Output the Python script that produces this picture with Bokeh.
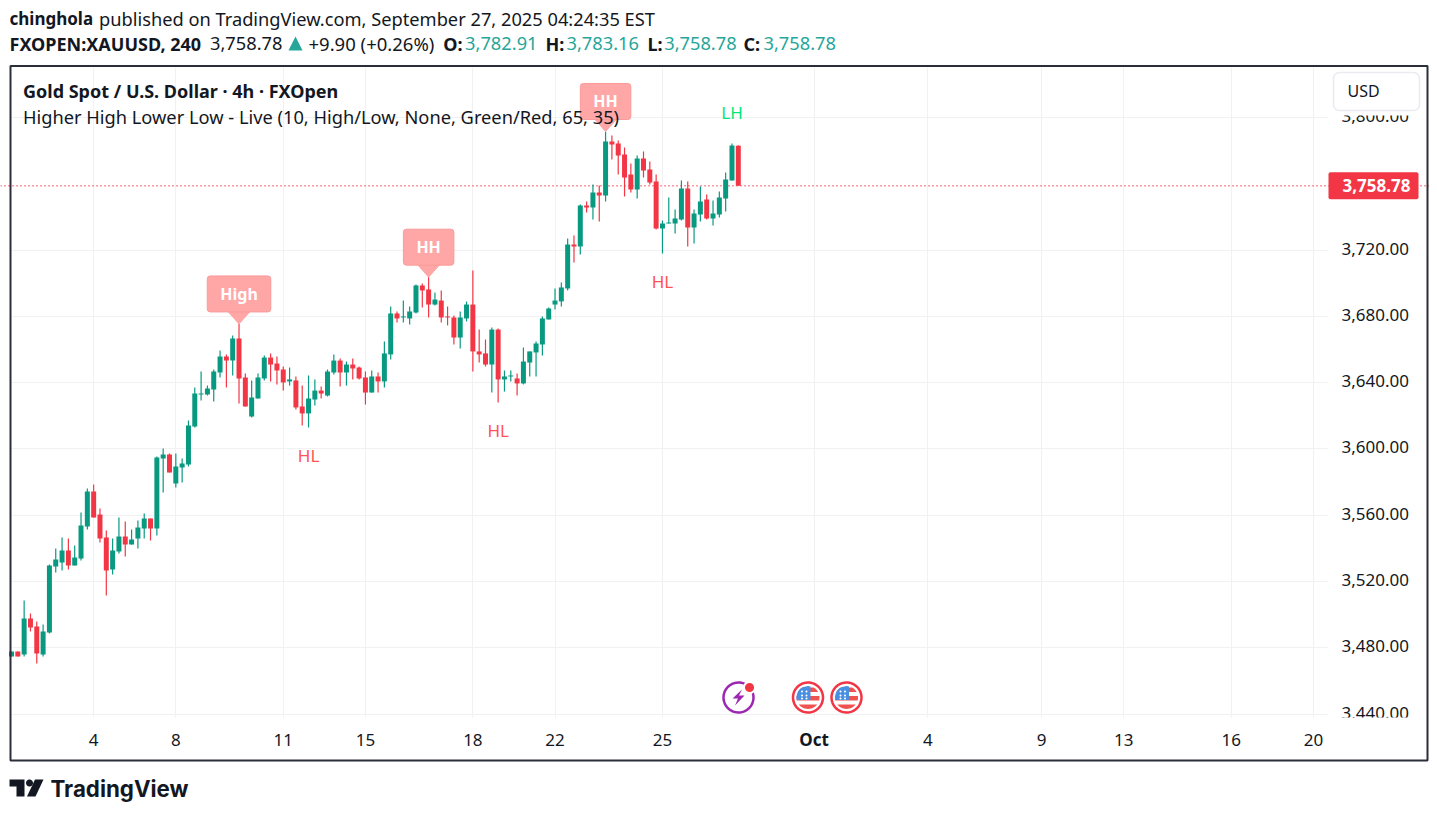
import numpy as np
from bokeh.embed import file_html
from bokeh.models import BoxAnnotation, FixedTicker, Label, PolyAnnotation, Range1d, Span
from bokeh.plotting import figure
from bokeh.resources import INLINE

opens = [3474.8, 3477.8, 3476.0, 3497.7, 3492.9, 3476.0, 3489.2, 3529.0, 3531.5, 3538.7,
         3529.7, 3533.9, 3553.2, 3574.3, 3560.4, 3546.5, 3527.2, 3538.1, 3547.1, 3542.3,
         3546.0, 3552.0, 3558.0, 3552.0, 3594.2, 3596.6, 3579.1, 3588.8, 3590.6, 3613.5,
         3632.8, 3632.8, 3635.8, 3646.1, 3655.8, 3653.3, 3666.6, 3643.1, 3619.5, 3630.4,
         3642.5, 3655.1, 3651.5, 3647.9, 3640.7, 3641.3, 3625.6, 3621.4, 3629.8, 3635.2,
         3632.2, 3646.1, 3653.3, 3646.1, 3650.9, 3649.1, 3643.1, 3634.0, 3643.7, 3640.7,
         3657.0, 3681.7, 3679.3, 3678.7, 3682.3, 3698.6, 3696.2, 3687.1, 3689.5, 3679.9,
         3679.3, 3667.2, 3678.7, 3687.1, 3658.8, 3657.6, 3650.9, 3672.0, 3641.9, 3643.7,
         3642.5, 3639.5, 3652.1, 3658.2, 3663.0, 3678.1, 3687.1, 3689.0, 3696.8, 3723.3,
         3722.1, 3746.9, 3745.6, 3754.7, 3752.9, 3785.5, 3784.3, 3777.6, 3765.6, 3756.5,
         3775.2, 3768.6, 3761.3, 3733.0, 3736.0, 3736.0, 3738.4, 3757.1, 3733.6, 3741.4,
         3750.5, 3739.0, 3741.4, 3751.1, 3761.9, 3782.91]
highs = [3477.8, 3477.8, 3508.5, 3500.7, 3495.9, 3494.1, 3530.3, 3539.9, 3546.5, 3546.0,
         3541.7, 3561.6, 3576.1, 3578.5, 3564.0, 3550.8, 3546.0, 3558.6, 3556.2, 3551.4,
         3556.8, 3561.0, 3558.0, 3595.4, 3600.2, 3597.2, 3597.2, 3594.2, 3617.1, 3637.0,
         3646.7, 3638.2, 3647.9, 3659.4, 3656.9, 3668.4, 3675.4, 3645.5, 3641.3, 3645.5,
         3656.3, 3657.5, 3655.7, 3649.7, 3649.1, 3643.7, 3638.2, 3644.3, 3641.9, 3637.6,
         3647.9, 3657.0, 3654.5, 3652.7, 3654.5, 3649.7, 3646.7, 3647.3, 3646.1, 3664.8,
         3685.9, 3682.9, 3689.5, 3685.9, 3699.2, 3699.8, 3703.6, 3694.4, 3695.6, 3685.9,
         3680.5, 3682.9, 3688.9, 3707.6, 3672.0, 3666.0, 3673.2, 3672.6, 3647.3, 3647.3,
         3645.5, 3661.2, 3658.8, 3664.8, 3679.9, 3685.3, 3696.8, 3700.4, 3727.0, 3728.8,
         3747.5, 3749.3, 3759.5, 3758.9, 3791.5, 3789.1, 3786.1, 3781.8, 3772.2, 3777.0,
         3779.4, 3773.4, 3765.6, 3737.8, 3751.7, 3744.4, 3761.9, 3761.3, 3744.4, 3758.3,
         3753.5, 3749.9, 3755.3, 3766.8, 3784.3, 3783.16]
lows = [3474.8, 3474.8, 3474.8, 3489.8, 3470.5, 3474.8, 3488.6, 3525.4, 3526.6, 3527.2,
        3529.7, 3532.7, 3551.4, 3558.6, 3543.5, 3511.5, 3524.2, 3536.9, 3535.1, 3542.3,
        3539.9, 3546.0, 3544.7, 3547.7, 3573.7, 3585.8, 3576.7, 3579.7, 3589.4, 3612.9,
        3629.2, 3632.2, 3628.6, 3643.1, 3637.0, 3644.3, 3627.4, 3625.6, 3619.0, 3630.4,
        3641.3, 3640.7, 3638.9, 3635.2, 3638.2, 3623.8, 3614.1, 3612.9, 3626.2, 3630.4,
        3631.6, 3644.9, 3637.6, 3638.2, 3641.9, 3641.9, 3626.8, 3634.0, 3634.0, 3637.0,
        3653.9, 3676.3, 3676.3, 3675.1, 3681.7, 3685.3, 3679.3, 3686.5, 3676.3, 3674.5,
        3663.0, 3660.6, 3676.9, 3646.7, 3652.1, 3649.7, 3634.0, 3628.0, 3634.6, 3640.7,
        3632.2, 3638.9, 3643.7, 3643.7, 3656.4, 3678.1, 3684.1, 3685.9, 3695.6, 3712.5,
        3717.3, 3742.6, 3738.4, 3737.2, 3749.3, 3774.6, 3765.6, 3752.3, 3754.7, 3751.1,
        3763.7, 3759.5, 3732.4, 3717.9, 3736.0, 3730.0, 3737.8, 3722.1, 3723.9, 3737.2,
        3738.4, 3734.8, 3739.6, 3743.2, 3761.9, 3758.78]
closes = [3477.8, 3474.8, 3497.7, 3492.3, 3476.6, 3489.8, 3529.7, 3533.3, 3538.7, 3529.7,
          3534.5, 3553.8, 3574.3, 3558.6, 3546.0, 3526.6, 3538.7, 3547.1, 3542.3, 3545.3,
          3552.6, 3558.0, 3552.0, 3594.8, 3596.6, 3585.8, 3589.4, 3591.2, 3614.1, 3633.4,
          3633.4, 3636.4, 3646.7, 3655.8, 3653.3, 3666.6, 3642.5, 3625.6, 3631.0, 3643.1,
          3655.1, 3650.9, 3647.3, 3640.1, 3641.9, 3625.0, 3621.4, 3630.4, 3635.2, 3633.4,
          3646.7, 3653.3, 3646.1, 3650.9, 3648.5, 3642.5, 3634.0, 3643.7, 3640.7, 3657.6,
          3681.7, 3678.7, 3679.9, 3682.9, 3698.6, 3695.6, 3687.1, 3690.1, 3679.3, 3679.3,
          3667.2, 3679.3, 3687.1, 3658.8, 3657.0, 3650.9, 3672.0, 3641.9, 3643.7, 3644.3,
          3639.5, 3652.7, 3658.8, 3663.6, 3678.7, 3684.7, 3689.5, 3697.4, 3723.3, 3722.1,
          3746.9, 3745.6, 3754.7, 3752.9, 3785.5, 3783.7, 3777.0, 3763.7, 3756.5, 3775.2,
          3768.0, 3760.7, 3733.0, 3736.0, 3736.6, 3739.0, 3757.1, 3733.6, 3742.0, 3749.3,
          3739.0, 3742.0, 3751.7, 3762.5, 3783.0, 3758.78]

price_ticks = [3440, 3480, 3520, 3560, 3600, 3640, 3680, 3720, 3800]
time_ticks = [13, 26, 43, 56, 73, 86, 103, 127, 145, 163, 176, 193, 206]
time_labels = ["4", "8", "11", "15", "18", "22", "25", "", "4", "9", "13", "16", "20"]

bubble_bars = [36, 66, 94]
bubble_names = ["High", "HH", "HH"]
swing_high_bars = [114]
swing_high_names = ["LH"]
swing_low_bars = [47, 77, 103]
swing_low_names = ["HL", "HL", "HL"]

UP = "#089981"
DOWN = "#F23645"
INK = "#131722"
TEAL = "#26a69a"
BUBBLE = "#ffa6a6"
FONT = "Noto Sans"

PX_BAR = 6.32
PX_USD = 1.6575

W, H = 1429, 803
PANE_L, PANE_R, PANE_T, PANE_B = 11, 1327, 67, 717


def bar_at(px):
    return (px - 11) / PX_BAR


def usd_at(py):
    return 3480 + (647.3 - py) / PX_USD


# the frame fills the whole canvas, annotations get clipped to it otherwise
p = figure(width=W, height=H, output_backend="svg", toolbar_location=None,
           x_range=Range1d(bar_at(0), bar_at(W)), y_range=Range1d(usd_at(H), usd_at(0)),
           y_axis_location="right", min_border=0)
p.outline_line_color = None
p.background_fill_color = "white"
p.border_fill_color = "white"

# price labels sit 1.5px above their grid lines
label_lift = 1.5 / PX_USD
label_ticks = [t + label_lift for t in price_ticks]
p.yaxis.ticker = FixedTicker(ticks=label_ticks)
p.yaxis.major_label_overrides = {l: f"{t:,.2f}" for l, t in zip(label_ticks, price_ticks)}
p.yaxis.fixed_location = bar_at(PANE_R)
p.ygrid.ticker = FixedTicker(ticks=price_ticks)
p.xaxis.ticker = FixedTicker(ticks=time_ticks)
p.xaxis.major_label_overrides = dict(zip(time_ticks, time_labels))
p.xaxis.fixed_location = usd_at(PANE_B)
for ax in (p.xaxis, p.yaxis):
    ax.axis_line_color = None
    ax.major_tick_line_color = None
    ax.minor_tick_line_color = None
    ax.major_label_text_font = FONT
    ax.major_label_text_font_size = "17px"
    ax.major_label_text_color = INK
p.yaxis.major_label_standoff = 8
p.xaxis.major_label_standoff = 10
p.grid.grid_line_color = "#f1f1f2"
p.grid.grid_line_width = 1


def box(left, right, top, bottom, **kw):
    p.add_layout(BoxAnnotation(left=left, right=right, top=top, bottom=bottom,
                               left_units="canvas", right_units="canvas", top_units="canvas",
                               bottom_units="canvas", **kw))


# white masks keep the grid inside the pane
for l, r, t, b in [(0, PANE_L, 0, H), (PANE_R, W, 0, H), (0, W, 0, PANE_T), (0, W, PANE_B, H)]:
    box(l, r, t, b, fill_color="white", fill_alpha=1, line_color=None, level="underlay")

bars = list(range(len(opens)))
colors = [UP if c >= o else DOWN for o, c in zip(opens, closes)]
p.add_layout(Span(location=closes[-1], dimension="width", line_color=DOWN,
                  line_dash=[1, 3], line_width=1.4, level="underlay"))
p.segment(bars, highs, bars, lows, color=colors, line_width=1.2)
p.vbar(bars, 0.79, opens, closes, fill_color=colors, line_color=None)


def text(x, y, s, color=INK, size="18.25px", style="normal", font=FONT, align="left"):
    p.add_layout(Label(x=x, y=y, x_units="canvas", y_units="canvas", text=s,
                       text_color=color, text_font=font, text_font_size=size,
                       text_font_style=style, text_align=align, text_baseline="middle"))


def poly(xs, ys, fill, line=None, width=1):
    p.add_layout(PolyAnnotation(xs=list(xs), ys=list(ys), xs_units="canvas", ys_units="canvas",
                                fill_color=fill, fill_alpha=1 if fill else 0,
                                line_color=line, line_alpha=1, line_width=width))


def disc(x, y, r, fill, line=None, width=1):
    t = np.linspace(0, 2 * np.pi, 60)
    poly(x + r * np.cos(t), y + r * np.sin(t), fill, line, width)


def band(x, y, r, top, bottom):
    rows = np.linspace(top, bottom, 12)
    half = np.sqrt(np.maximum(r * r - rows * rows, 0))
    poly(list(x - half) + list(x + half[::-1]), list(y + rows) + list(y + rows[::-1]), "#ef5350")


# bubbles over the swing highs
for b, name in zip(bubble_bars, bubble_names):
    tip = highs[b]
    p.patch([b - 11.5 / PX_BAR, b, b + 11.5 / PX_BAR],
            [tip + 13 / PX_USD, tip, tip + 13 / PX_USD],
            fill_color=BUBBLE, line_color=BUBBLE)
    p.add_layout(Label(x=b, y=tip, y_offset=12, text=name, anchor="bottom_center",
                       text_align="center", text_color="white", text_font=FONT,
                       text_font_size="16px", text_font_style="bold",
                       background_fill_color=BUBBLE, border_line_color="#fb9a9a",
                       border_radius=3, padding=(13, 7)))

for b, name in zip(swing_high_bars, swing_high_names):
    p.add_layout(Label(x=b, y=highs[b], y_offset=31, text=name, text_align="center",
                       text_baseline="middle", text_color="#00e676", text_font=FONT,
                       text_font_size="17px"))
for b, name in zip(swing_low_bars, swing_low_names):
    p.add_layout(Label(x=b, y=lows[b], y_offset=-28, text=name, text_align="center",
                       text_baseline="middle", text_color="#ff5252", text_font=FONT,
                       text_font_size="17px"))

# Oct is bold, the other date ticks are not
p.add_layout(Label(x=time_ticks[7], y=739, y_units="canvas", text="Oct", text_align="center",
                   text_baseline="middle", text_color=INK, text_font=FONT,
                   text_font_size="17px", text_font_style="bold"))

# event icons
disc(738, 697, 15, "white", "#9c27b0", 2.5)
poly([738 + d for d in (3.5, -6, -0.5, -3.5, 6, 0.5)],
     [697 + d for d in (-8, 1, 1, 8, -2, -2)], "#9c27b0")
disc(749, 687, 6.5, "white")
disc(749, 687, 4.5, DOWN)
for fx in (807.5, 846):
    disc(fx, 697, 15, "white", DOWN, 2.5)
    band(fx, 697, 11.5, -10, -5.5)
    band(fx, 697, 11.5, -1.5, 3)
    band(fx, 697, 11.5, 7, 11.5)
    rows = np.linspace(-11.5, 2.5, 12)
    half = np.sqrt(np.maximum(11.5 ** 2 - rows * rows, 0))
    poly(list(fx - half) + [fx + 2.5, fx + 2.5], list(697 + rows) + [699.5, 686], "#4a90e2")
    for dx in (-6, -1.5):
        for dy in (-6, -2, 1):
            disc(fx + dx, 697 + dy, 1, "white")

# scale clipping, button, outer frame
box(1329, 1425, 717, 732, fill_color="white", fill_alpha=1, line_color=None)
box(1329, 1425, 105, 115, fill_color="white", fill_alpha=1, line_color=None)
box(1333, 1419, 72, 110, fill_color="white", fill_alpha=1, line_color="#e9ebf0", line_alpha=1,
    line_width=1.5, border_radius=6)
text(1347, 90, "USD", size="16px")
box(10, 1427, 65.5, 760, fill_alpha=0, line_color="#2a2e39", line_alpha=1, line_width=2)

# last price tag
p.add_layout(BoxAnnotation(left=1328, right=1418, top=closes[-1] + 13.5 / PX_USD,
                           bottom=closes[-1] - 13.5 / PX_USD, left_units="canvas", right_units="canvas",
                           fill_color=DOWN, fill_alpha=1, line_color=None, border_radius=2))
p.add_layout(Label(x=1376, y=closes[-1], x_units="canvas", text=f"{closes[-1]:,.2f}",
                   text_align="center", text_baseline="middle", text_color="white",
                   text_font=FONT, text_font_size="17px", text_font_style="bold"))

# heading lines
text(9, 18, "chinghola", style="bold", size="17px")
text(98.5, 18, "published on TradingView.com, September 27, 2025 04:24:35 EST")
text(9, 43, "FXOPEN:XAUUSD, 240", style="bold", size="18px")
text(209.5, 43, f"{closes[-1]:,.2f}")
poly([288, 295, 302], [50, 36, 50], TEAL)
text(308, 43, "+9.90 (+0.26%)", size="18.5px")
for x, s in zip((442.7, 545, 647, 743), ("O:", "H:", "L:", "C:")):
    text(x, 43, s, style="bold", size="18px")
for x, v in zip((464.6, 566, 663.7, 763), (opens[-1], highs[-1], lows[-1], closes[-1])):
    text(x, 43, f"{v:,.2f}", color=TEAL)
text(22.5, 90, "Gold Spot / U.S. Dollar · 4h · FXOpen", style="bold", size="18px")
text(22.5, 116, "Higher High Lower Low - Live (10, High/Low, None, Green/Red, 65, 35)")

# TradingView mark and wordmark
poly([9, 24, 24, 16, 16, 9], [779, 779, 796, 796, 786, 786], INK)
disc(29, 782.5, 3.5, INK)
poly([34.5, 43, 35, 26.5], [779, 779, 796, 796], INK)
text(50, 788, "TradingView", size="22.3px", style="bold", font="Inter")

open("out.html", "w").write(file_html(p, INLINE))
